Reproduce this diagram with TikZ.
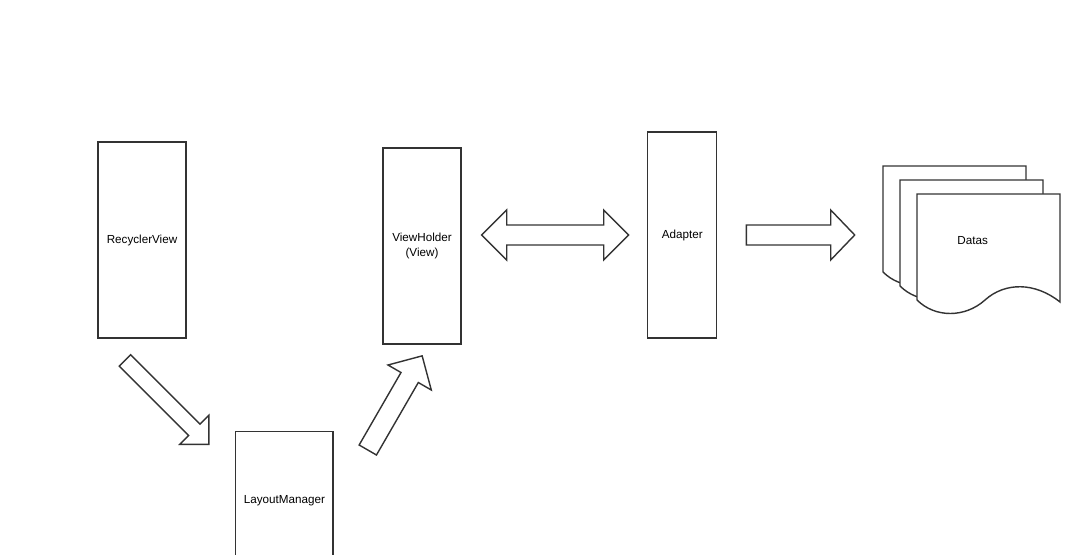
\documentclass[tikz,border=0pt]{standalone}
\usepackage{fontspec}
\setmainfont{Liberation Sans}
\usetikzlibrary{calc,positioning}
\tikzset{
    block/.style = {draw=black!80, rectangle, line width=1pt, fill=white,
        align=center, font=\fontsize{8.3}{10}\selectfont},
    fat/.style = {draw=black!80, line width=1pt, line join=miter},
    sheet/.style = {draw=black!80, line width=1pt, fill=white}
}
% block arrow from the middle of its tail: length, half shaft, half head, head length
\newcommand\fatarrow[4]{%
    ++(0,-#2) -- ++({#1-#4},0) -- ++(0,{#2-#3}) -- ++(#4,#3) -- ++(-#4,#3) -- ++(0,{#2-#3}) -- ++({#4-#1},0) -- cycle
}
% double block arrow from its left tip
\newcommand\fatdarrow[4]{%
    -- ++(#4,#3) -- ++(0,{#2-#3}) -- ++({#1-2*#4},0) -- ++(0,{#3-#2}) -- ++(#4,-#3) -- ++(-#4,-#3) -- ++(0,{#3-#2}) -- ++({2*#4-#1},0) -- ++(0,{#2-#3}) -- cycle
}
% one sheet of the document stack
\newcommand\datasheet[1]{%
    \draw[sheet, shift={#1}] (917,360) -- (1060,360) -- (1060,252)
        .. controls (1035,272) and (1005,272) .. (985,254)
        .. controls (965,236) and (935,236) .. (917,254) -- cycle;
}
\begin{document}
\begin{tikzpicture}[x=0.025cm, y=0.025cm]
    \useasboundingbox (0,0) rectangle (1080,554);
    \node [block, minimum width=2.2cm, minimum height=4.9cm] (rv) at (142,314) {RecyclerView};
    \node [block, minimum width=1.95cm, minimum height=4.9cm] (vh) at (422,308) {ViewHolder\\(View)};
    \node [block, minimum width=1.725cm, minimum height=5.15cm] (ad) at (682.2,319) {Adapter};
    \node [block, minimum width=2.43cm, minimum height=3.465cm] (lm) at (284.4,53) {LayoutManager};
    % stack of datas
    \datasheet{(-34,28)}
    \datasheet{(-17,14)}
    \datasheet{(0,0)}
    \node [font=\fontsize{8.3}{10}\selectfont, name=datas] at (972.7,313.3) {Datas};
    % block arrows
    \coordinate (rvout) at (124.9,193.6);
    \coordinate (lmout) at (367.8,104);
    \coordinate (vhad) at ($(vh.east |- ad.center)+(20,0)$);
    \coordinate (addata) at ($(ad.east)+(29,0)$);
    \draw [fat, rotate=-45] (rvout) \fatarrow{118.8}{8}{20.5}{20.6};
    \draw [fat, rotate=60] (lmout) \fatarrow{108.7}{10}{25}{25};
    \draw [fat] (vhad) \fatdarrow{147}{10}{25}{25};
    \draw [fat] (addata) \fatarrow{108.3}{10}{25}{24};
\end{tikzpicture}
\end{document}
